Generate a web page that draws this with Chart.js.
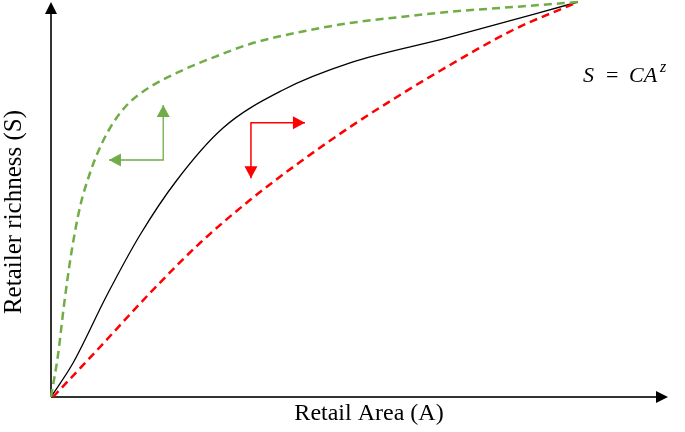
<!DOCTYPE html>
<html>
<head>
<meta charset="utf-8">
<script src="https://cdn.jsdelivr.net/npm/chart.js@4/dist/chart.umd.min.js"></script>
<style>
  html, body { margin: 0; padding: 0; background: #fff; }
  #wrap { width: 685px; height: 432px; }
</style>
</head>
<body>
<div id="wrap"><canvas id="chart"></canvas></div>
<script>
// curve values, area (x) against richness (y), both on a 0-100 scale
const greenX = [0, 1.33, 2.47, 3.80, 5.50, 7.40, 8.92, 11.20, 14.42, 18.79, 25.05, 31.51, 37.77, 47.26, 56.75, 66.24, 75.16, 87.68, 100]
const greenY = [0, 10.63, 23.29, 35.95, 48.10, 56.71, 62.03, 68.10, 73.92, 78.48, 82.78, 86.33, 89.37, 92.41, 94.68, 96.20, 97.47, 98.73, 100]

const blackX = [0, 4.18, 10.63, 16.89, 23.91, 32.64, 44.03, 56.75, 75.16, 100]
const blackY = [0, 8.61, 25.82, 41.01, 54.94, 68.10, 77.72, 84.56, 90.89, 100]

const redX = [0.38, 9.30, 18.79, 28.28, 37.77, 47.26, 56.75, 66.24, 75.73, 87.68, 100]
const redY = [0, 12.66, 26.33, 38.99, 49.87, 59.49, 68.35, 76.46, 84.05, 92.91, 100]

// elbow arrows: first tip, corner, second tip
const greenArrowX = [11.0, 21.3, 21.3]
const greenArrowY = [60.0, 60.0, 73.9]
const redArrowX = [48.2, 37.95, 37.95]
const redArrowY = [69.4, 69.4, 55.4]

const xLabel = "Retail Area (A)"
const yLabel = "Retailer richness (S)"

const GREEN = "#70ad47"
const RED = "#ff0000"

const toPoints = (xs, ys) => xs.map((x, i) => ({ x: x, y: ys[i] }))

function arrowHead(ctx, fromX, fromY, tipX, tipY, len, half, color) {
  const a = Math.atan2(tipY - fromY, tipX - fromX)
  const bx = tipX - len * Math.cos(a)
  const by = tipY - len * Math.sin(a)
  ctx.save()
  ctx.fillStyle = color
  ctx.beginPath()
  ctx.moveTo(tipX, tipY)
  ctx.lineTo(bx + half * Math.sin(a), by - half * Math.cos(a))
  ctx.lineTo(bx - half * Math.sin(a), by + half * Math.cos(a))
  ctx.closePath()
  ctx.fill()
  ctx.restore()
}

const decorations = {
  id: "decorations",
  beforeDatasetsDraw(chart) {
    const { ctx, chartArea, scales } = chart
    const x0 = scales.x.getPixelForValue(0)
    const y0 = scales.y.getPixelForValue(0)

    // axes with arrow heads
    ctx.save()
    ctx.strokeStyle = "#333"
    ctx.lineWidth = 2
    ctx.beginPath()
    ctx.moveTo(x0, y0)
    ctx.lineTo(x0, chartArea.top + 8)
    ctx.moveTo(x0, y0)
    ctx.lineTo(chartArea.right - 8, y0)
    ctx.stroke()
    ctx.restore()
    arrowHead(ctx, x0, y0, x0, chartArea.top, 12, 6, "#000")
    arrowHead(ctx, x0, y0, chartArea.right, y0, 12, 6, "#000")

    ctx.save()
    ctx.fillStyle = "#000"
    ctx.textAlign = "center"
    ctx.textBaseline = "middle"
    ctx.font = "24px 'Liberation Serif', serif"
    ctx.fillText(xLabel, 369, 414)
    ctx.font = "25px 'Liberation Serif', serif"
    ctx.translate(14, 212)
    ctx.rotate(-Math.PI / 2)
    ctx.fillText(yLabel, 0, 0)
    ctx.restore()

    // S = CA^z
    ctx.save()
    ctx.fillStyle = "#000"
    ctx.textBaseline = "alphabetic"
    ctx.font = "italic 22px 'Liberation Serif', serif"
    ctx.fillText("S", 583, 82)
    ctx.font = "22px 'Liberation Serif', serif"
    ctx.fillText("=", 606, 82)
    ctx.font = "italic 22px 'Liberation Serif', serif"
    ctx.fillText("CA", 629, 82)
    ctx.font = "italic 16px 'Liberation Serif', serif"
    ctx.fillText("z", 660, 72)
    ctx.restore()
  },
  afterDatasetsDraw(chart) {
    const { ctx, scales } = chart
    const px = v => scales.x.getPixelForValue(v)
    const py = v => scales.y.getPixelForValue(v)
    const elbows = [[greenArrowX, greenArrowY, GREEN], [redArrowX, redArrowY, RED]]
    elbows.forEach(([xs, ys, color]) => {
      arrowHead(ctx, px(xs[1]), py(ys[1]), px(xs[0]), py(ys[0]), 12, 6.5, color)
      arrowHead(ctx, px(xs[1]), py(ys[1]), px(xs[2]), py(ys[2]), 12, 6.5, color)
    })
  }
}

const curve = {
  showLine: true,
  pointRadius: 0,
  cubicInterpolationMode: "monotone",
  clip: false,
  fill: false
}
const elbow = { showLine: true, pointRadius: 0, tension: 0, clip: false, fill: false }

new Chart(document.getElementById("chart"), {
  type: "scatter",
  data: {
    datasets: [
      { ...curve, data: toPoints(greenX, greenY), borderColor: GREEN, borderWidth: 2.5, borderDash: [8, 5] },
      { ...curve, data: toPoints(redX, redY), borderColor: RED, borderWidth: 2.5, borderDash: [8, 5] },
      { ...curve, data: toPoints(blackX, blackY), borderColor: "#000", borderWidth: 1.3 },
      { ...elbow, data: toPoints(greenArrowX, greenArrowY), borderColor: GREEN, borderWidth: 1.3 },
      { ...elbow, data: toPoints(redArrowX, redArrowY), borderColor: RED, borderWidth: 1.5 }
    ]
  },
  options: {
    responsive: true,
    maintainAspectRatio: false,
    animation: false,
    layout: { padding: { left: 51, top: 2, right: 17, bottom: 35 } },
    scales: {
      x: { type: "linear", display: false, min: 0, max: 117.1 },
      y: { type: "linear", display: false, min: 0, max: 100 }
    },
    plugins: {
      legend: { display: false },
      tooltip: { enabled: false }
    }
  },
  plugins: [decorations]
})
</script>
</body>
</html>
